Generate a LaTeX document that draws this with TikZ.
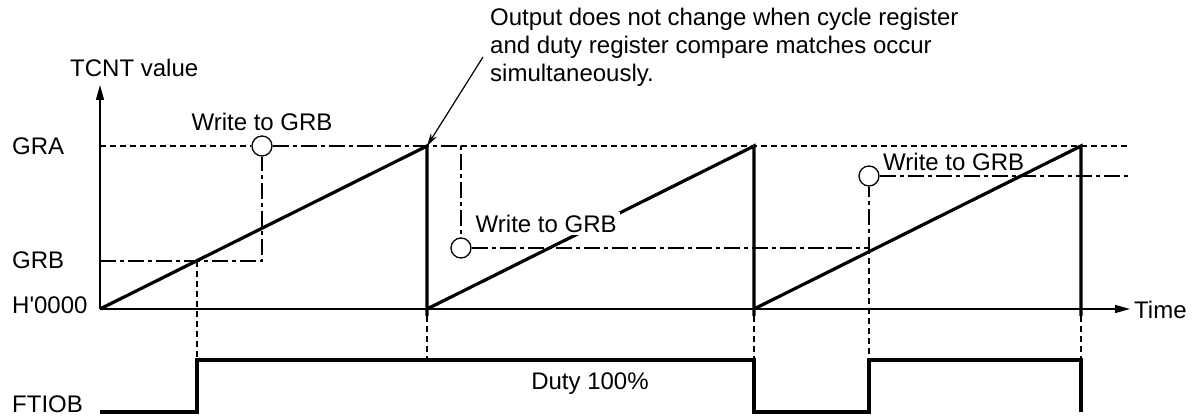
\documentclass[tikz,border=0pt]{standalone}
\usepackage{fontspec}
\setmainfont{Liberation Sans}
\usetikzlibrary{positioning,arrows.meta}

\begin{document}
\begin{tikzpicture}[x=1pt,y=-1pt,>={Triangle[length=15pt,width=8pt]},
  font=\fontsize{24}{28}\selectfont,
  ramp/.style={line width=3.2pt,line join=miter},
  axis/.style={line width=1.4pt},
  gra/.style={line width=1.3pt,dash pattern=on 6pt off 4pt},
  grb/.style={line width=1.3pt,dash pattern=on 16pt off 4pt on 4pt off 4pt},
  wr/.style={circle,draw,line width=1.3pt,fill=white,minimum size=20pt,inner sep=0pt},
  lbl/.style={inner sep=0pt}]
\useasboundingbox (0,0) rectangle (1195,417);

% axes
\coordinate (o) at (100,309);
\coordinate (ytop) at (100,85);
\coordinate (xend) at (1130,309);
\draw[axis,->] (o) -- (ytop);
\draw[axis,->] (o) -- (xend);
\node (tcnt) [lbl,anchor=base west] at (70,77) {TCNT value};
\node (time) [lbl,anchor=west] at (1134,310) {Time};
\node (lgra) [lbl,anchor=west] at (12,146) {GRA};
\node (lgrb) [lbl,anchor=west] at (12,260) {GRB};
\node (lzero) [lbl,anchor=west] at (12,305) {H\textquotesingle 0000};
\node (lftiob) [lbl,anchor=west] at (12,404) {FTIOB};

% counter
\coordinate (pk1) at (427,146);
\coordinate (pk2) at (754,146);
\coordinate (pk3) at (1081,146);
\coordinate (bt1) at (427,316);
\coordinate (bt2) at (754,316);
\coordinate (bt3) at (1081,316);
\draw[ramp] (o) -- (pk1) -- (bt1) (427,309) -- (pk2) -- (bt2) (754,309) -- (pk3) -- (bt3);

% GRB writes
\node (w1) [wr] at (262,146) {};
\node (w2) [wr] at (461,248) {};
\node (w3) [wr] at (869,176) {};
\coordinate (m1) at (197,261);
\coordinate (m3) at (869,248);
\draw[gra] (100,146) -- (w1.west);
\draw[gra] (461,146) -- (1130,146);
\draw[grb] (100,261) -- (262,261) -- (w1.south);
\draw[grb] (w1.east) -- (461,146) -- (w2.north);
\draw[grb] (w2.east) -- (m3) -- (w3.south);
\draw[grb] (w3.east) -- (1128,176);
\node (lbl1) [lbl,above=4pt of w1] {Write to GRB};
\node (lbl2) [lbl,fill=white,inner sep=3pt,above right=5pt and 4pt of w2] {Write to GRB};
\node (lbl3) [lbl,anchor=base west] at (883,171) {Write to GRB};

% FTIOB
\coordinate (h1) at (197,360);
\coordinate (h2) at (427,360);
\coordinate (h3) at (754,360);
\coordinate (h4) at (869,360);
\coordinate (h5) at (1081,360);
\draw[gra] (m1) -- (h1);
\draw[gra] (bt1) -- (h2);
\draw[gra] (bt2) -- (h3);
\draw[gra] (m3) -- (h4);
\draw[gra] (bt3) -- (h5);
\draw[ramp] (100,412) -- (197,412) -- (h1) -- (h3) -- (754,412) -- (869,412) -- (h4) -- (h5) -- (1081,412);
\node (duty) [lbl] at (590,384) {Duty 100\%};

% note
\node (note) [lbl,anchor=north west,align=left] at (490,8)
  {Output does not change when cycle register\\and duty register compare matches occur\\simultaneously.};
\coordinate (nt) at (483,57);
\draw[line width=1.2pt,-{Stealth[length=13pt,width=7pt]}] (nt) -- (pk1);
\end{tikzpicture}
\end{document}
